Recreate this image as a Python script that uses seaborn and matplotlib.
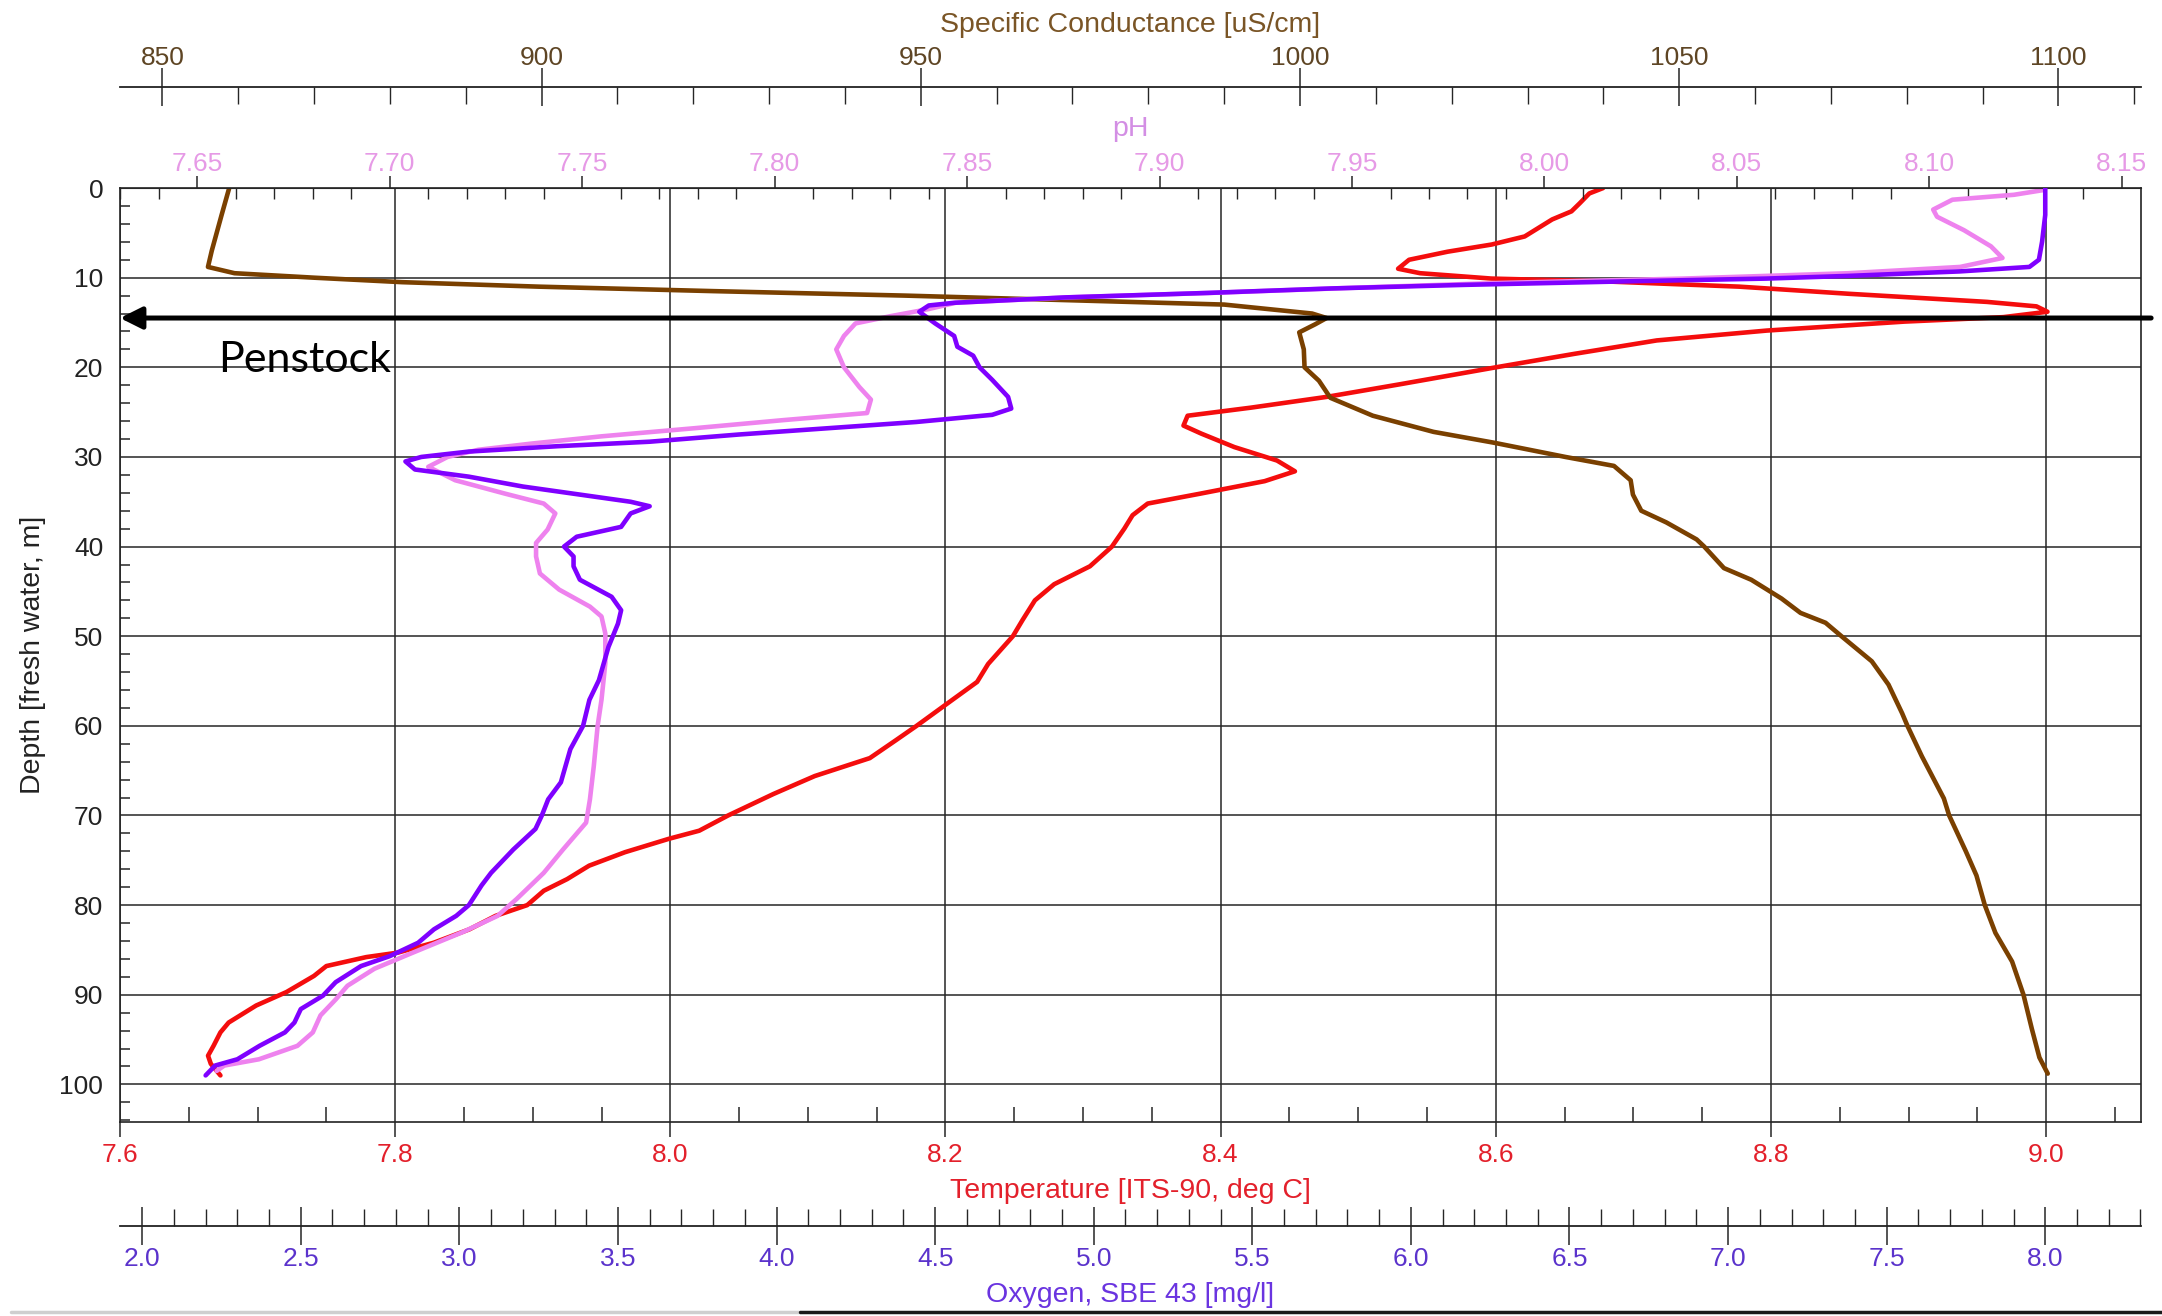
import pandas as pd
import seaborn as sns
import matplotlib.pyplot as plt
from matplotlib.ticker import MultipleLocator, FormatStrFormatter
from matplotlib.lines import Line2D

# depth profiles (depth in m)
cond_depth = [0, 3, 7, 8.8, 9.5, 10, 10.5, 11, 11.5, 12, 12.5, 13, 14, 14.5, 15.2, 16.1, 18, 20, 21.5, 23.4,
              25.4, 27.2, 28.4, 30, 31, 32.6, 34.2, 36, 37.3, 39.2, 40, 42.4, 43.7, 45.8, 47.4, 48.5, 50, 52.8,
              55.4, 58.6, 60, 63.4, 68.1, 70, 74, 76.7, 80, 83.1, 86.3, 90, 93.8, 97, 98.8]
cond_vals = [858.8, 857.8, 856.5, 856.0, 859.5, 870, 881.6, 899.6, 922.7, 948, 969, 990, 1001.6, 1003.5, 1002.0,
             999.9, 1000.5, 1000.6, 1002.5, 1004.0, 1009.6, 1017.6, 1025.5, 1035, 1041.4, 1043.6, 1043.9, 1045,
             1048.3, 1052.3, 1053.3, 1055.9, 1059.5, 1063.5, 1066, 1069.3, 1071.4, 1075.4, 1077.6, 1079.4, 1080.1,
             1082, 1084.9, 1085.6, 1087.8, 1089.2, 1090.3, 1091.7, 1093.9, 1095.4, 1096.5, 1097.5, 1098.6]

temp_depth = [0.0, 0.6, 1.7, 2.6, 3.5, 5.4, 6.3, 7.1, 8.0, 9.0, 9.5, 10.1, 10.4, 11.0, 11.8, 12.7, 13.2, 13.8,
              14.4, 14.9, 15.9, 17.0, 18.5, 20.0, 21.9, 23.3, 24.5, 25.4, 26.5, 27.4, 28.9, 30.4, 31.6, 32.7,
              34.1, 35.2, 36.5, 38.0, 40.0, 42.2, 44.2, 46.0, 48.2, 50.0, 53.1, 55.1, 57.1, 60.0, 61.6, 63.6,
              65.6, 67.6, 70.0, 71.7, 72.6, 74.1, 75.6, 77.1, 78.4, 80.0, 81.2, 82.7, 84.2, 85.3, 85.8, 86.8,
              87.9, 89.7, 91.2, 93.1, 94.2, 95.7, 96.8, 97.7, 99.0]
temp_vals = [8.678, 8.668, 8.661, 8.655, 8.641, 8.621, 8.597, 8.565, 8.537, 8.529, 8.545, 8.597, 8.677, 8.777,
             8.857, 8.957, 8.993, 9.001, 8.969, 8.897, 8.797, 8.717, 8.657, 8.600, 8.530, 8.477, 8.422, 8.376,
             8.373, 8.386, 8.410, 8.441, 8.454, 8.432, 8.385, 8.347, 8.336, 8.330, 8.321, 8.305, 8.279, 8.265,
             8.256, 8.249, 8.231, 8.223, 8.205, 8.179, 8.164, 8.145, 8.105, 8.075, 8.042, 8.021, 7.999, 7.967,
             7.941, 7.925, 7.908, 7.896, 7.873, 7.854, 7.828, 7.802, 7.779, 7.750, 7.741, 7.721, 7.699, 7.679,
             7.673, 7.668, 7.664, 7.666, 7.673]

oxy_depth = [0, 3, 6, 8.0, 8.8, 9.3, 9.8, 10.1, 10.4, 10.8, 11.2, 11.7, 12.2, 12.8, 13.1, 13.8, 15.1, 16.5, 17.7,
             18.7, 20.0, 21.4, 23.3, 24.6, 25.3, 26.1, 26.8, 27.5, 28.3, 28.8, 29.4, 30.0, 30.5, 31.4, 32.2, 33.3,
             34.2, 35.0, 35.5, 36.3, 37.8, 38.9, 40.0, 41.1, 42.2, 43.7, 45.6, 47.1, 48.6, 51.2, 54.9, 57.1, 60.0,
             62.6, 66.3, 68.2, 70.0, 71.5, 73.8, 76.4, 77.8, 80.0, 81.2, 82.7, 84.2, 85.7, 86.8, 88.6, 90.1, 91.6,
             93.1, 94.2, 95.7, 97.2, 97.9, 99.0]
oxy_vals = [8.00, 8.00, 7.99, 7.98, 7.95, 7.73, 7.38, 7.12, 6.69, 6.17, 5.75, 5.36, 4.91, 4.56, 4.48, 4.45, 4.50,
            4.56, 4.57, 4.62, 4.64, 4.68, 4.73, 4.74, 4.68, 4.44, 4.16, 3.88, 3.60, 3.31, 3.03, 2.88, 2.83, 2.86,
            3.03, 3.20, 3.38, 3.54, 3.60, 3.54, 3.51, 3.37, 3.33, 3.36, 3.36, 3.38, 3.48, 3.51, 3.50, 3.47, 3.44,
            3.41, 3.39, 3.35, 3.32, 3.28, 3.26, 3.24, 3.17, 3.10, 3.07, 3.03, 2.99, 2.92, 2.87, 2.78, 2.69, 2.61,
            2.57, 2.50, 2.48, 2.45, 2.37, 2.30, 2.23, 2.20]

ph_depth = [0.0, 0.2, 0.75, 1.3, 2.4, 3.2, 4.7, 6.5, 7.8, 8.8, 9.5, 10.1, 10.6, 11.1, 11.7, 12.2, 12.8, 13.5,
            14.3, 15.1, 16.5, 18.0, 20.0, 22.2, 23.6, 25.1, 25.9, 26.8, 27.7, 28.5, 29.2, 30.0, 31.1, 32.6, 34.1,
            35.2, 36.3, 38.1, 39.6, 41.1, 43.0, 44.8, 46.7, 47.8, 49.7, 53.0, 57.1, 60.0, 64.5, 68.2, 70.8, 73.8,
            76.4, 79.3, 81.2, 83.0, 85.3, 87.1, 89.0, 90.5, 92.3, 94.2, 95.7, 97.2, 97.9, 98.5]
ph_vals = [8.130, 8.130, 8.122, 8.106, 8.101, 8.102, 8.109, 8.116, 8.119, 8.108, 8.079, 8.036, 7.987, 7.952,
           7.913, 7.876, 7.847, 7.840, 7.830, 7.821, 7.818, 7.816, 7.818, 7.822, 7.825, 7.824, 7.802, 7.779,
           7.755, 7.737, 7.723, 7.715, 7.710, 7.717, 7.730, 7.740, 7.743, 7.741, 7.738, 7.738, 7.739, 7.744,
           7.752, 7.755, 7.756, 7.756, 7.755, 7.754, 7.753, 7.752, 7.751, 7.745, 7.740, 7.733, 7.728, 7.719,
           7.706, 7.696, 7.689, 7.686, 7.682, 7.680, 7.676, 7.666, 7.657, 7.655]

penstock_depth = 14.5

cond = pd.DataFrame({'Depth': cond_depth, 'Cond': cond_vals})
temp = pd.DataFrame({'Depth': temp_depth, 'Temp': temp_vals})
oxy = pd.DataFrame({'Depth': oxy_depth, 'Oxy': oxy_vals})
ph = pd.DataFrame({'Depth': ph_depth, 'pH': ph_vals})

sns.set_style('white')
plt.rcParams['font.family'] = ['Liberation Sans', 'DejaVu Sans']

BROWN = '#7a4000'
RED = '#f40d0d'
PINK = '#ee82ee'
PURPLE = '#7f00ff'
FS = 19
LW = 3.3

fig = plt.figure(figsize=(21.62, 13.16), dpi=100)
ax = fig.add_axes([0.0555, 0.1474, 0.9348, 0.7097])
ax_c = ax.twiny()
ax_ph = ax.twiny()
ax_o = ax.twiny()

sns.lineplot(data=temp, x='Temp', y='Depth', sort=False, estimator=None, orient='y', ax=ax, color=RED, lw=LW)
sns.lineplot(data=cond, x='Cond', y='Depth', sort=False, estimator=None, orient='y', ax=ax_c, color=BROWN, lw=LW)
sns.lineplot(data=ph, x='pH', y='Depth', sort=False, estimator=None, orient='y', ax=ax_ph, color=PINK, lw=LW)
sns.lineplot(data=oxy, x='Oxy', y='Depth', sort=False, estimator=None, orient='y', ax=ax_o, color=PURPLE, lw=LW)

ax.set_ylim(104.2, 0)

# temperature / depth (main axes)
ax.set_xlim(7.6, 9.069)
ax.xaxis.set_major_locator(MultipleLocator(0.2))
ax.xaxis.set_minor_locator(MultipleLocator(0.05))
ax.xaxis.set_major_formatter(FormatStrFormatter('%.1f'))
ax.yaxis.set_major_locator(MultipleLocator(10))
ax.yaxis.set_minor_locator(MultipleLocator(2))
ax.tick_params(axis='x', which='major', direction='out', length=11, width=1.1, labelsize=FS, labelcolor='#e3202b', pad=4)
ax.tick_params(axis='x', which='minor', direction='in', length=11, width=1.1)
ax.tick_params(axis='y', which='major', direction='out', length=9, width=1.1, labelsize=FS, labelcolor='#222222', pad=3)
ax.tick_params(axis='y', which='minor', direction='in', length=7, width=1.1, left=True)
ax.grid(True, which='major', color='#262626', lw=1.1)
ax.set_xlabel('Temperature [ITS-90, deg C]', fontsize=FS + 1.5, color='#e3202b', labelpad=8)
ax.set_ylabel('Depth [fresh water, m]', fontsize=FS + 1.5, color='#222222', labelpad=10)
for s in ax.spines.values():
    s.set_color('#222222')
    s.set_linewidth(1.2)

# pH on the top spine
ax_ph.set_xlim(7.6299, 8.155)
ax_ph.xaxis.set_major_locator(MultipleLocator(0.05))
ax_ph.xaxis.set_minor_locator(MultipleLocator(0.01))
ax_ph.xaxis.set_major_formatter(FormatStrFormatter('%.2f'))
ax_ph.tick_params(axis='x', which='major', direction='out', length=9, width=1.1, labelsize=FS, labelcolor='#e69ae6', pad=0)
ax_ph.tick_params(axis='x', which='minor', direction='in', length=8, width=1.0)
ax_ph.set_xlabel('pH', fontsize=FS + 1.5, color='#d38ee4', labelpad=11)
for k in ['bottom', 'left', 'right']:
    ax_ph.spines[k].set_visible(False)

# conductance axis floating above
ax_c.set_xlim(844.4, 1110.9)
ax_c.spines['top'].set_position(('outward', 73))
for k in ['bottom', 'left', 'right']:
    ax_c.spines[k].set_visible(False)
ax_c.spines['top'].set_color('#222222')
ax_c.spines['top'].set_linewidth(1.3)
ax_c.xaxis.set_major_locator(MultipleLocator(50))
ax_c.xaxis.set_minor_locator(MultipleLocator(10))
ax_c.tick_params(axis='x', which='major', direction='inout', length=28, width=1.1, labelsize=FS, labelcolor='#5e4524', pad=-2)
ax_c.tick_params(axis='x', which='minor', direction='in', length=12, width=1.0)
ax_c.set_xlabel('Specific Conductance [uS/cm]', fontsize=FS + 1.5, color='#7a5526', labelpad=10)

# oxygen axis floating below
ax_o.xaxis.tick_bottom()
ax_o.xaxis.set_label_position('bottom')
ax_o.set_xlim(1.930, 8.302)
ax_o.spines['bottom'].set_position(('outward', 75))
for k in ['top', 'left', 'right']:
    ax_o.spines[k].set_visible(False)
ax_o.spines['bottom'].set_color('#222222')
ax_o.spines['bottom'].set_linewidth(1.3)
ax_o.xaxis.set_major_locator(MultipleLocator(0.5))
ax_o.xaxis.set_minor_locator(MultipleLocator(0.1))
ax_o.xaxis.set_major_formatter(FormatStrFormatter('%.1f'))
ax_o.tick_params(axis='x', which='major', direction='inout', length=28, width=1.1, labelsize=FS, labelcolor='#5b33cc', pad=1)
ax_o.tick_params(axis='x', which='minor', direction='in', length=12, width=1.0)
ax_o.set_xlabel('Oxygen, SBE 43 [mg/l]', fontsize=FS + 1.5, color='#6a34e0', labelpad=8)

# penstock marker
ax_o.annotate('', xy=(0, penstock_depth), xycoords=('axes fraction', 'data'),
              xytext=(1.005, penstock_depth), textcoords=('axes fraction', 'data'),
              annotation_clip=False,
              arrowprops=dict(arrowstyle='-|>,head_length=0.6,head_width=0.3', mutation_scale=22,
                              color='black', lw=3.6, shrinkA=0, shrinkB=0))
ax.text(7.671, 19.2, 'Penstock', fontsize=31, family=['Lato', 'DejaVu Sans'], va='center', ha='left', color='black')

# screenshot border at the bottom
fig.add_artist(Line2D([0.005, 0.37], [0.003, 0.003], color='#cfcfcf', lw=2.5, transform=fig.transFigure))
fig.add_artist(Line2D([0.37, 1.0], [0.003, 0.003], color='#1a1a1a', lw=2.5, transform=fig.transFigure))

fig.savefig('out.png', dpi=100, facecolor='white')
